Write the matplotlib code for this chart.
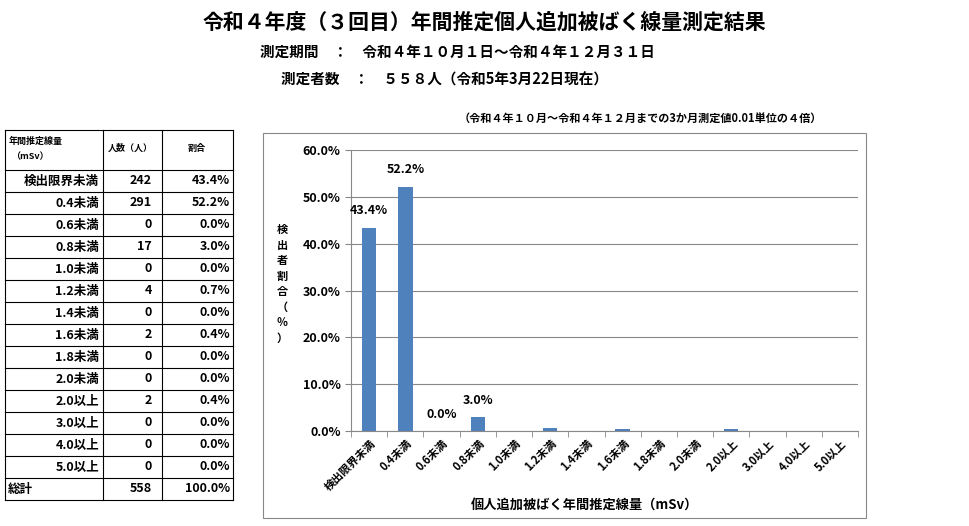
import matplotlib
matplotlib.use("Agg")
import matplotlib.pyplot as plt
from matplotlib.patches import Rectangle

plt.rcParams["font.family"] = "Noto Sans CJK JP"

categories = ["検出限界未満", "0.4未満", "0.6未満", "0.8未満", "1.0未満", "1.2未満", "1.4未満",
              "1.6未満", "1.8未満", "2.0未満", "2.0以上", "3.0以上", "4.0以上", "5.0以上"]
counts = [242, 291, 0, 17, 0, 4, 0, 2, 0, 0, 2, 0, 0, 0]
percents = [43.4, 52.2, 0.0, 3.0, 0.0, 0.7, 0.0, 0.4, 0.0, 0.0, 0.4, 0.0, 0.0, 0.0]
labeled = [0, 1, 2, 3]
total_count = 558
total_pct = "100.0%"
yticks = [0, 10, 20, 30, 40, 50, 60]

W, H = 969, 526
fig = plt.figure(figsize=(W/100, H/100), dpi=100)

def fx(x): return x / W
def fy(y): return 1 - y / H

fig.text(0.5, fy(22), "令和４年度（３回目）年間推定個人追加被ばく線量測定結果", ha="center", va="center", fontsize=15, fontweight="bold")
fig.text(fx(260), fy(52), "測定期間　：　令和４年１０月１日～令和４年１２月３１日", ha="left", va="center", fontsize=10.5, fontweight="bold")
fig.text(fx(281), fy(80), "測定者数　：　５５８人（令和5年3月22日現在）", ha="left", va="center", fontsize=10.5, fontweight="bold")
fig.text(fx(822), fy(119), "（令和４年１０月～令和４年１２月までの3か月測定値0.01単位の４倍）", ha="right", va="center", fontsize=8, fontweight="bold")

# chart border
fig.patches.append(Rectangle((fx(263), fy(518)), fx(866) - fx(263), fy(133) - fy(518),
                             transform=fig.transFigure, fill=False, edgecolor="#888888", lw=0.8))

ax = fig.add_axes([fx(351), fy(431), fx(858) - fx(351), fy(150) - fy(431)])
x = list(range(len(categories)))
ax.bar(x, percents, width=0.4, color="#4F81BD")
for i in labeled:
    ax.text(i, percents[i] + 2.2, f"{percents[i]:.1f}%", ha="center", va="bottom", fontsize=9, fontweight="bold")
ax.set_xlim(-0.5, len(categories) - 0.5)
ax.set_ylim(0, 60)
ax.set_yticks(yticks)
ax.set_yticklabels([f"{v:.1f}%" for v in yticks], fontsize=9, fontweight="bold")
ax.set_xticks(x)
ax.set_xticklabels(categories, rotation=45, ha="right", rotation_mode="anchor", fontsize=8, fontweight="bold")
ax.set_xticks([i + 0.5 for i in range(-1, len(categories))], minor=True)
ax.tick_params(axis="x", which="major", length=0, pad=4)
ax.tick_params(axis="x", which="minor", length=4, color="#888888")
ax.tick_params(axis="y", length=4, color="#888888")
ax.grid(axis="y", color="#888888", lw=0.8)
ax.set_axisbelow(True)
for s in ["top", "right"]:
    ax.spines[s].set_visible(False)
ax.spines["left"].set_color("#888888")
ax.spines["bottom"].set_color("#888888")
fig.text(fx(282), fy(284), "\n".join("検出者割合（％）"), ha="center", va="center", fontsize=8, fontweight="bold", linespacing=1.25)
fig.text(fx(585), fy(505), "個人追加被ばく年間推定線量（mSv）", ha="center", va="center", fontsize=9.5, fontweight="bold")

# table
tax = fig.add_axes([0, 0, 1, 1])
tax.set_xlim(0, W); tax.set_ylim(H, 0); tax.axis("off")
cols = [5, 103, 162, 233]
rows = [130, 170] + [170 + 22 * (i + 1) for i in range(len(categories))] + [500]
for y in rows:
    tax.plot([cols[0], cols[-1]], [y, y], color="black", lw=0.8)
for c in cols:
    tax.plot([c, c], [rows[0], rows[-1]], color="black", lw=0.8)
tax.text(9, 141, "年間推定線量", fontsize=6.5, fontweight="bold", va="center")
tax.text(11, 157, "（mSv）", fontsize=6.5, fontweight="bold", va="center")
tax.text(130, 148, "人数（人）", fontsize=6.5, fontweight="bold", ha="center", va="center")
tax.text(197, 148, "割合", fontsize=6.5, fontweight="bold", ha="center", va="center")
for i, cat in enumerate(categories):
    yc = (rows[i + 1] + rows[i + 2]) / 2
    tax.text(99, yc, cat, ha="right", va="center", fontsize=9, fontweight="bold")
    tax.text(152, yc, str(counts[i]), ha="right", va="center", fontsize=9, fontweight="bold")
    tax.text(230, yc, f"{percents[i]:.1f}%", ha="right", va="center", fontsize=9, fontweight="bold")
yc = (rows[-2] + rows[-1]) / 2
tax.text(8, yc, "総計", ha="left", va="center", fontsize=9, fontweight="bold")
tax.text(152, yc, str(total_count), ha="right", va="center", fontsize=9, fontweight="bold")
tax.text(230, yc, total_pct, ha="right", va="center", fontsize=9, fontweight="bold")

fig.savefig("out.png", dpi=100)
